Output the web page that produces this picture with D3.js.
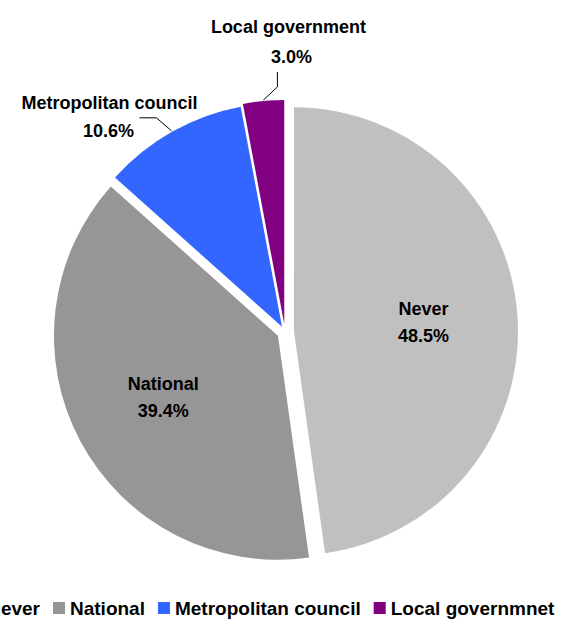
<!DOCTYPE html>
<html>
<head>
<meta charset="utf-8">
<script src="https://cdn.jsdelivr.net/npm/d3@7"></script>
<style>
  html, body { margin: 0; padding: 0; background: #fff; overflow: hidden; }
  svg { display: block; }
  text { font-family: "Liberation Sans", Arial, sans-serif; font-weight: bold; fill: #000; }
</style>
</head>
<body>
<svg id="chart" width="577" height="619"></svg>
<script>
// ---- data ----
const categories = ["Never", "National", "Metropolitan council", "Local government"];
const values = [48.5, 39.4, 10.6, 3.0];
const valueLabels = ["48.5%", "39.4%", "10.6%", "3.0%"];
const legendLabels = ["Never", "National", "Metropolitan council", "Local governmnet"];
const colors = ["#C0C0C0", "#969696", "#3366FF", "#800080"];

// ---- layout (style constants) ----
const cx = 285, cy = 332, R = 224;
const explode = [9, 8, 6, 8];
const insideLabel = [true, true, false, false];

const svg = d3.select("#chart");
const color = d3.scaleOrdinal().domain(categories).range(colors);

const pie = d3.pie().sort(null).value(d => d.value);
const data = categories.map((c, i) => ({ name: c, value: values[i], label: valueLabels[i], i }));
const arcs = pie(data);

const arc = d3.arc().innerRadius(0).outerRadius(R);
const labelArc = d3.arc().innerRadius(R * 0.58).outerRadius(R * 0.58);

const g = svg.append("g").attr("transform", `translate(${cx},${cy})`);

function offset(a, e) {
  const m = (a.startAngle + a.endAngle) / 2;
  return [Math.sin(m) * e, -Math.cos(m) * e];
}

const slices = g.selectAll("g.slice").data(arcs).enter().append("g")
  .attr("class", "slice")
  .attr("transform", d => { const o = offset(d, explode[d.index]); return `translate(${o[0]},${o[1]})`; });

slices.append("path")
  .attr("d", arc)
  .attr("fill", d => color(d.data.name));

// inside labels
slices.filter(d => insideLabel[d.index]).each(function(d) {
  const c = labelArc.centroid(d);
  const s = d3.select(this);
  s.append("text").attr("x", c[0]).attr("y", c[1] - 13.5).attr("dy", "0.35em")
    .attr("text-anchor", "middle").style("font-size", "18px").text(d.data.name);
  s.append("text").attr("x", c[0]).attr("y", c[1] + 13.5).attr("dy", "0.35em")
    .attr("text-anchor", "middle").style("font-size", "18px").text(d.data.label);
});

// outside labels with leader lines
const leaderSpec = {
  2: { pts: [[-15, -13], [-32, -13]], name: [-30, -15], val: [-31, 13] },
  3: { pts: [[14, -13], [14, -28]], name: [11, -45], val: [14, -15] }
};
slices.filter(d => !insideLabel[d.index]).each(function(d) {
  const spec = leaderSpec[d.index];
  const m = (d.startAngle + d.endAngle) / 2;
  const p0 = [Math.sin(m) * (R + 1), -Math.cos(m) * (R + 1)];
  const p1 = [p0[0] + spec.pts[0][0], p0[1] + spec.pts[0][1]];
  const p2 = [p0[0] + spec.pts[1][0], p0[1] + spec.pts[1][1]];
  const s = d3.select(this);
  s.append("path")
    .attr("d", d3.line()([p0, p1, p2]))
    .attr("fill", "none").attr("stroke", "#000").attr("stroke-width", 1);
  s.append("text").attr("x", p2[0] + spec.name[0]).attr("y", p2[1] + spec.name[1]).attr("dy", "0.35em")
    .attr("text-anchor", "middle").style("font-size", "18px").text(d.data.name);
  s.append("text").attr("x", p2[0] + spec.val[0]).attr("y", p2[1] + spec.val[1]).attr("dy", "0.35em")
    .attr("text-anchor", "middle").style("font-size", "18px").text(d.data.label);
});

// ---- legend ----
const legendY = 608;
const legendFont = "19px";
const sq = 12, sqGap = 5, itemGap = 12;
const legend = svg.append("g").attr("class", "legend");
const widths = legendLabels.map(t => {
  const tmp = legend.append("text").style("font-size", legendFont).text(t);
  const w = tmp.node().getComputedTextLength();
  tmp.remove();
  return w;
});
// the legend row starts off the left edge, as in the reference (first item is clipped)
let x = 52 - (sq + sqGap + widths[0] + itemGap);
legendLabels.forEach((t, i) => {
  legend.append("rect").attr("x", x).attr("y", legendY - sq / 2).attr("width", sq).attr("height", sq)
    .attr("fill", colors[i]);
  legend.append("text").attr("x", x + sq + sqGap).attr("y", legendY).attr("dy", "0.35em")
    .style("font-size", legendFont).text(t);
  x += sq + sqGap + widths[i] + itemGap + 1;
});
</script>
</body>
</html>
